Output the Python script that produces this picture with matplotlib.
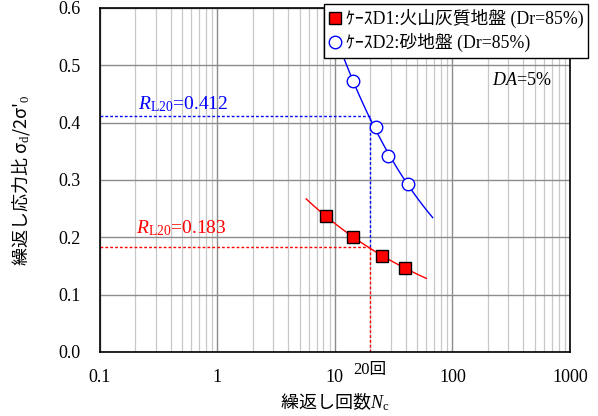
import matplotlib
matplotlib.use("Agg")
import matplotlib.pyplot as plt
import numpy as np
from matplotlib.ticker import LogLocator, NullFormatter

plt.rcParams["mathtext.fontset"] = "custom"
plt.rcParams["mathtext.rm"] = "Liberation Serif"
plt.rcParams["mathtext.it"] = "Liberation Serif:italic"

SERIF = ["Liberation Serif", "Noto Sans CJK JP"]
SANS_JP = ["Noto Sans CJK JP", "DejaVu Sans"]

# ケースD1: 火山灰質地盤 (red squares)
d1_n = [8.4, 14.2, 25.1, 39.4]
d1_r = [0.237, 0.201, 0.167, 0.147]
d1_fit_range = [5.7, 60.0]

# ケースD2: 砂地盤 (blue open circles)
d2_n = [14.2, 22.3, 28.3, 41.8]
d2_r = [0.473, 0.392, 0.342, 0.293]
d2_fit_range = [9.0, 68.0]

n_target = 20
rl20_d1 = 0.183
rl20_d2 = 0.412

y_ticks = [0.0, 0.1, 0.2, 0.3, 0.4, 0.5, 0.6]
x_ticks = [0.1, 1, 10, 100, 1000]
x_tick_labels = ["0.1", "1", "10", "100", "1000"]


def power_fit(n, r, n_range):
    b, log_a = np.polyfit(np.log10(n), np.log10(r), 1)
    xs = np.logspace(np.log10(n_range[0]), np.log10(n_range[1]), 100)
    return xs, 10 ** log_a * xs ** b


fig = plt.figure(figsize=(5.98, 4.16), dpi=100)
ax = fig.add_axes([0.167, 0.154, 0.786, 0.827])
ax.set_xscale("log")
ax.set_xlim(0.1, 1000)
ax.set_ylim(0.0, 0.6)

# grid
ax.xaxis.set_minor_locator(LogLocator(base=10, subs=np.arange(2, 10)))
ax.xaxis.set_minor_formatter(NullFormatter())
ax.grid(which="minor", axis="x", color="#c8c8c8", lw=0.9)
ax.grid(which="major", axis="x", color="#8c8c8c", lw=1.0)
ax.grid(which="major", axis="y", color="#8c8c8c", lw=1.0)
ax.set_axisbelow(True)

# R_L20 guide lines
dash = (0, (2, 1.5))
ax.plot([0.1, n_target], [rl20_d2, rl20_d2], color="blue", ls=dash, lw=1.0)
ax.plot([n_target, n_target], [rl20_d1, rl20_d2], color="blue", ls=dash, lw=1.0)
ax.plot([0.1, n_target], [rl20_d1, rl20_d1], color="red", ls=dash, lw=1.0)
ax.plot([n_target, n_target], [0, rl20_d1], color="red", ls=dash, lw=1.0)

# fit curves
xs, ys = power_fit(d1_n, d1_r, d1_fit_range)
ax.plot(xs, ys, color="red", lw=1.0)
xs, ys = power_fit(d2_n, d2_r, d2_fit_range)
ax.plot(xs, ys, color="blue", lw=1.0)

ax.plot(d1_n, d1_r, "s", ms=9, mfc="red", mec="black", mew=1.0,
        label="ｹｰｽD1:火山灰質地盤 (Dr=85%)")
ax.plot(d2_n, d2_r, "o", ms=9, mfc="white", mec="blue", mew=1.0,
        label="ｹｰｽD2:砂地盤 (Dr=85%)")

ax.text(0.21, rl20_d2 + 0.011, "$R_{\\mathrm{L20}}$=0.412", color="blue",
        fontsize=14, family=SERIF, va="baseline")
ax.text(0.205, rl20_d1 + 0.024, "$R_{\\mathrm{L20}}$=0.183", color="red",
        fontsize=14, family=SERIF, va="baseline")
ax.text(0.834, 0.79, "$\\mathit{DA}$=5%", transform=ax.transAxes,
        fontsize=13, family=SERIF, va="center")

ax.set_xticks(x_ticks)
ax.set_xticklabels(x_tick_labels)
ax.set_yticks(y_ticks)
ax.set_yticklabels([f"{v:.1f}" for v in y_ticks])
ax.tick_params(which="both", length=0, labelsize=13)
ax.tick_params(axis="x", pad=12)
ax.tick_params(axis="y", pad=14)
for lab in ax.get_xticklabels() + ax.get_yticklabels():
    lab.set_family(SERIF)

ax.text(n_target, -0.028, "20回", transform=ax.get_xaxis_transform(),
        ha="center", va="top", fontsize=12, family=SERIF)

for sp in ax.spines.values():
    sp.set_color("black")
    sp.set_linewidth(1.2)

ax.set_xlabel("繰返し回数$N_\\mathrm{c}$", family=SANS_JP, fontsize=13)
ax.xaxis.set_label_coords(0.5, -0.112)
ax.set_ylabel("繰返し応力比 σ$_\\mathrm{d}$/2σ'$_\\mathrm{0}$", family=SANS_JP,
              fontsize=13, labelpad=19)

leg = fig.legend(loc="upper right", bbox_to_anchor=(0.99, 1.0),
                 bbox_transform=fig.transFigure, fancybox=False, framealpha=1,
                 edgecolor="black", prop={"family": SERIF, "size": 12.8},
                 handlelength=0.6, handletextpad=0.3, borderpad=0.3,
                 labelspacing=0.3, borderaxespad=0.2)
leg.get_frame().set_linewidth(1.0)

fig.savefig("out.png", dpi=100)
